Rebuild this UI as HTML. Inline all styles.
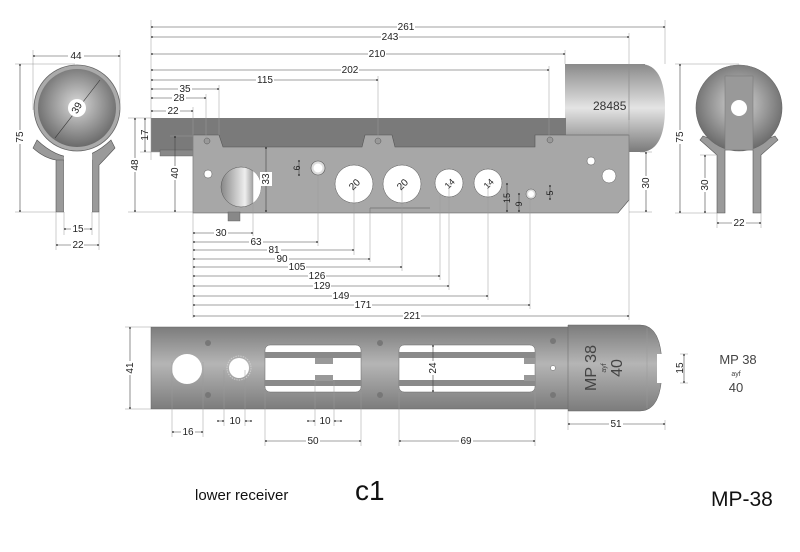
<!DOCTYPE html>
<html><head><meta charset="utf-8"><style>
html,body{margin:0;padding:0;background:#fff;}
svg{display:block;font-family:"Liberation Sans",Arial,sans-serif;}
.d{stroke:#444;stroke-width:.6;fill:none;marker-start:url(#a);marker-end:url(#a)}
.e{stroke:#999;stroke-width:.5;fill:none}
.t{font-size:10px;fill:#222;text-anchor:middle}
.w{fill:#fff}
</style></head><body>
<svg width="800" height="552" viewBox="0 0 800 552" xmlns="http://www.w3.org/2000/svg">
<defs>
<marker id="a" viewBox="0 0 6 6" refX="3" refY="3" markerWidth="4" markerHeight="4" orient="auto"><circle cx="3" cy="3" r="2.2" fill="#222"/></marker>
<radialGradient id="sph" cx="50%" cy="45%" r="55%"><stop offset="0" stop-color="#d8d8d8"/><stop offset="1" stop-color="#6a6a6a"/></radialGradient>
<linearGradient id="cyl" x1="0" y1="0" x2="0" y2="1"><stop offset="0" stop-color="#8a8a8a"/><stop offset=".5" stop-color="#e4e4e4"/><stop offset="1" stop-color="#7a7a7a"/></linearGradient>
<linearGradient id="tube" x1="0" y1="0" x2="0" y2="1"><stop offset="0" stop-color="#7c7c7c"/><stop offset=".45" stop-color="#b5b5b5"/><stop offset="1" stop-color="#7c7c7c"/></linearGradient>
<linearGradient id="hole" x1="0" y1="0" x2="1" y2="0"><stop offset="0" stop-color="#888"/><stop offset=".6" stop-color="#eee"/><stop offset="1" stop-color="#555"/></linearGradient>
</defs>

<!-- LEFT END VIEW -->
<path d="M37,140 Q74,175 111,140 L115,148 Q104,160 99,165 L99,212 L92,212 L92,160 L56,160 L56,212 L64,212 L64,160 L56,160 Q44,158 33,148 Z" fill="#9a9a9a" stroke="#555" stroke-width=".6"/>
<rect x="64" y="150" width="28" height="62" fill="#fff"/>
<circle cx="77" cy="108" r="43" fill="#aaa" stroke="#666" stroke-width=".8"/>
<circle cx="77" cy="108" r="39" fill="url(#sph)"/>
<line x1="55" y1="138" x2="100" y2="80" stroke="#333" stroke-width=".6"/>
<circle cx="77" cy="108" r="9" fill="#fff"/>
<text x="77" y="111" class="t" transform="rotate(-60 77 108)">39</text>
<line class="e" x1="33" y1="50" x2="33" y2="110"/><line class="e" x1="120" y1="50" x2="120" y2="110"/>
<line class="d" x1="34" y1="56" x2="119" y2="56"/><rect x="68" y="50" width="16" height="10" class="w"/><text x="76" y="59" class="t">44</text>
<line class="e" x1="15" y1="64" x2="75" y2="64"/><line class="e" x1="15" y1="212" x2="56" y2="212"/>
<line class="d" x1="20" y1="65" x2="20" y2="211"/><rect x="14" y="130" width="12" height="14" class="w"/><text x="20" y="137" class="t" transform="rotate(-90 20 137)" dy="3">75</text>
<line class="e" x1="64" y1="212" x2="64" y2="235"/><line class="e" x1="92" y1="212" x2="92" y2="235"/>
<line class="e" x1="56" y1="212" x2="56" y2="250"/><line class="e" x1="99" y1="212" x2="99" y2="250"/>
<line class="d" x1="65" y1="229" x2="91" y2="229"/><rect x="71" y="223" width="13" height="10" class="w"/><text x="78" y="232" class="t">15</text>
<line class="d" x1="57" y1="245" x2="98" y2="245"/><rect x="71" y="239" width="13" height="10" class="w"/><text x="78" y="248" class="t">22</text>

<!-- SIDE VIEW -->
<rect x="565" y="64" width="80" height="88" fill="url(#cyl)"/>
<path d="M640,64 Q665,64 665,108 Q665,152 640,152 Z" fill="url(#cyl)"/>
<line x1="629" y1="64" x2="629" y2="120" stroke="#777" stroke-width=".5"/>
<text x="593" y="110" style="font-size:12px;fill:#333">28485</text>
<rect x="151" y="118" width="415" height="34" fill="#7a7a7a"/>
<rect x="160" y="150" width="34" height="6" fill="#888" stroke="#555" stroke-width=".4"/>
<path d="M193,135 L219,135 L223,147 L362,147 L365,135 L392,135 L395,147 L535,147 L535,135 L629,135 L629,200 L618,213 L193,213 Z" fill="#a7a7a7" stroke="#555" stroke-width=".6"/>
<line x1="370" y1="208" x2="430" y2="208" stroke="#555" stroke-width=".6"/><line x1="370" y1="208" x2="370" y2="213" stroke="#555" stroke-width=".6"/>
<rect x="228" y="212" width="12" height="9" fill="#888" stroke="#555" stroke-width=".4"/>
<circle cx="207" cy="141" r="3" fill="#999" stroke="#555" stroke-width=".5"/>
<circle cx="378" cy="141" r="3" fill="#999" stroke="#555" stroke-width=".5"/>
<circle cx="550" cy="140" r="3" fill="#999" stroke="#555" stroke-width=".5"/>
<circle cx="208" cy="174" r="4" fill="#fff" stroke="#555" stroke-width=".5"/>
<circle cx="241" cy="187" r="20" fill="url(#hole)" stroke="#555" stroke-width=".5"/>
<path d="M253,171 A20,20 0 0 1 253,203 Z" fill="#fff"/>
<circle cx="318" cy="168" r="7" fill="#ddd" stroke="#555" stroke-width=".6"/><circle cx="318" cy="168" r="4.5" fill="#fff"/>
<circle cx="354" cy="184" r="19" fill="#fff" stroke="#555" stroke-width=".5"/>
<circle cx="402" cy="184" r="19" fill="#fff" stroke="#555" stroke-width=".5"/>
<circle cx="449" cy="183" r="14" fill="#fff" stroke="#555" stroke-width=".5"/>
<circle cx="488" cy="183" r="14" fill="#fff" stroke="#555" stroke-width=".5"/>
<circle cx="531" cy="194" r="5" fill="#ddd" stroke="#555" stroke-width=".5"/><circle cx="531" cy="194" r="3" fill="#fff"/>
<circle cx="591" cy="161" r="4" fill="#fff" stroke="#555" stroke-width=".5"/>
<circle cx="609" cy="176" r="7" fill="#fff" stroke="#555" stroke-width=".5"/>
<text x="354" y="188" class="t" transform="rotate(-45 354 184)">20</text>
<text x="402" y="188" class="t" transform="rotate(-45 402 184)">20</text>
<text x="449" y="187" class="t" transform="rotate(-45 449 183)" style="font-size:9px">14</text>
<text x="488" y="187" class="t" transform="rotate(-45 488 183)" style="font-size:9px">14</text>
<!-- top dims -->
<line class="e" x1="151" y1="20" x2="151" y2="160"/><line class="e" x1="665" y1="20" x2="665" y2="64"/>
<line class="e" x1="629" y1="33" x2="629" y2="320"/><line class="e" x1="565" y1="50" x2="565" y2="64"/>
<line class="e" x1="549" y1="66" x2="549" y2="140"/><line class="e" x1="378" y1="76" x2="378" y2="140"/>
<line class="e" x1="219" y1="85" x2="219" y2="135"/><line class="e" x1="206" y1="94" x2="206" y2="140"/><line class="e" x1="193" y1="107" x2="193" y2="318"/>
<line class="d" x1="152" y1="27" x2="664" y2="27"/><rect x="397" y="21" width="18" height="11" class="w"/><text x="406" y="30" class="t">261</text>
<line class="d" x1="152" y1="37" x2="628" y2="37"/><rect x="381" y="31" width="18" height="11" class="w"/><text x="390" y="40" class="t">243</text>
<line class="d" x1="152" y1="54" x2="564" y2="54"/><rect x="368" y="48" width="18" height="11" class="w"/><text x="377" y="57" class="t">210</text>
<line class="d" x1="152" y1="70" x2="548" y2="70"/><rect x="341" y="64" width="18" height="11" class="w"/><text x="350" y="73" class="t">202</text>
<line class="d" x1="152" y1="80" x2="377" y2="80"/><rect x="256" y="74" width="18" height="11" class="w"/><text x="265" y="83" class="t">115</text>
<line class="d" x1="152" y1="89" x2="218" y2="89"/><rect x="178" y="83" width="14" height="11" class="w"/><text x="185" y="92" class="t">35</text>
<line class="d" x1="152" y1="98" x2="205" y2="98"/><rect x="172" y="92" width="14" height="11" class="w"/><text x="179" y="101" class="t">28</text>
<line class="d" x1="152" y1="111" x2="192" y2="111"/><rect x="166" y="105" width="14" height="11" class="w"/><text x="173" y="114" class="t">22</text>
<!-- left verticals -->
<line class="e" x1="128" y1="118" x2="151" y2="118"/><line class="e" x1="128" y1="212" x2="193" y2="212"/><line class="e" x1="140" y1="152" x2="160" y2="152"/><line class="e" x1="170" y1="136" x2="193" y2="136"/>
<line class="d" x1="135" y1="119" x2="135" y2="211"/><rect x="129" y="158" width="12" height="14" class="w"/><text x="135" y="165" class="t" transform="rotate(-90 135 165)" dy="3">48</text>
<line class="d" x1="145" y1="119" x2="145" y2="151"/><text x="145" y="135" class="t" transform="rotate(-90 145 135)" dy="3">17</text>
<line class="d" x1="175" y1="137" x2="175" y2="211"/><rect x="169" y="166" width="12" height="14" class="w"/><text x="175" y="173" class="t" transform="rotate(-90 175 173)" dy="3">40</text>
<line class="d" x1="266" y1="148" x2="266" y2="211"/><rect x="260" y="172" width="12" height="14" class="w"/><text x="266" y="179" class="t" transform="rotate(-90 266 179)" dy="3">33</text>
<line class="d" x1="299" y1="161" x2="299" y2="175"/><text x="297" y="168" class="t" transform="rotate(-90 297 168)" dy="3" style="font-size:9px">6</text>
<line class="e" x1="640" y1="152" x2="652" y2="152"/><line class="e" x1="629" y1="212" x2="652" y2="212"/>
<line class="d" x1="646" y1="153" x2="646" y2="211"/><rect x="640" y="176" width="12" height="14" class="w"/><text x="646" y="183" class="t" transform="rotate(-90 646 183)" dy="3">30</text>
<line class="d" x1="507" y1="184" x2="507" y2="211"/><text x="507" y="198" class="t" transform="rotate(-90 507 198)" dy="3" style="font-size:9px">15</text>
<line class="d" x1="519" y1="194" x2="519" y2="211"/><text x="519" y="204" class="t" transform="rotate(-90 519 204)" dy="3" style="font-size:9px">9</text>
<line class="d" x1="550" y1="186" x2="550" y2="199"/><text x="550" y="193" class="t" transform="rotate(-90 550 193)" dy="3" style="font-size:9px">5</text>
<!-- lower dims -->
<line class="e" x1="253" y1="170" x2="253" y2="238"/><line class="e" x1="318" y1="175" x2="318" y2="246"/><line class="e" x1="354" y1="184" x2="354" y2="255"/><line class="e" x1="370" y1="208" x2="370" y2="262"/><line class="e" x1="402" y1="184" x2="402" y2="271"/><line class="e" x1="440" y1="195" x2="440" y2="280"/><line class="e" x1="449" y1="183" x2="449" y2="290"/><line class="e" x1="488" y1="183" x2="488" y2="300"/><line class="e" x1="530" y1="199" x2="530" y2="309"/>
<line class="d" x1="194" y1="233" x2="252" y2="233"/><rect x="214" y="227" width="14" height="11" class="w"/><text x="221" y="236" class="t">30</text>
<line class="d" x1="194" y1="242" x2="317" y2="242"/><rect x="249" y="236" width="14" height="11" class="w"/><text x="256" y="245" class="t">63</text>
<line class="d" x1="194" y1="250" x2="353" y2="250"/><rect x="267" y="244" width="14" height="11" class="w"/><text x="274" y="253" class="t">81</text>
<line class="d" x1="194" y1="259" x2="369" y2="259"/><rect x="275" y="253" width="14" height="11" class="w"/><text x="282" y="262" class="t">90</text>
<line class="d" x1="194" y1="267" x2="401" y2="267"/><rect x="288" y="261" width="18" height="11" class="w"/><text x="297" y="270" class="t">105</text>
<line class="d" x1="194" y1="276" x2="439" y2="276"/><rect x="308" y="270" width="18" height="11" class="w"/><text x="317" y="279" class="t">126</text>
<line class="d" x1="194" y1="286" x2="448" y2="286"/><rect x="313" y="280" width="18" height="11" class="w"/><text x="322" y="289" class="t">129</text>
<line class="d" x1="194" y1="296" x2="487" y2="296"/><rect x="332" y="290" width="18" height="11" class="w"/><text x="341" y="299" class="t">149</text>
<line class="d" x1="194" y1="305" x2="529" y2="305"/><rect x="354" y="299" width="18" height="11" class="w"/><text x="363" y="308" class="t">171</text>
<line class="d" x1="194" y1="316" x2="628" y2="316"/><rect x="403" y="310" width="18" height="11" class="w"/><text x="412" y="319" class="t">221</text>

<!-- RIGHT END VIEW -->
<path d="M700,140 L717,155 L717,213 L725,213 L725,150 L753,150 L753,213 L761,213 L761,155 L778,140 L775,136 L739,150 L703,136 Z" fill="#9a9a9a" stroke="#555" stroke-width=".6"/>
<circle cx="739" cy="108" r="43" fill="url(#sph)" stroke="#666" stroke-width=".6"/>
<rect x="725" y="76" width="28" height="74" fill="#999" stroke="#777" stroke-width=".5"/>
<circle cx="739" cy="108" r="8" fill="#fff"/>
<line class="e" x1="675" y1="64" x2="739" y2="64"/><line class="e" x1="675" y1="213" x2="717" y2="213"/><line class="e" x1="700" y1="155" x2="717" y2="155"/>
<line class="d" x1="680" y1="65" x2="680" y2="212"/><rect x="674" y="130" width="12" height="14" class="w"/><text x="680" y="137" class="t" transform="rotate(-90 680 137)" dy="3">75</text>
<line class="d" x1="705" y1="156" x2="705" y2="212"/><rect x="699" y="178" width="12" height="14" class="w"/><text x="705" y="185" class="t" transform="rotate(-90 705 185)" dy="3">30</text>
<line class="e" x1="717" y1="213" x2="717" y2="228"/><line class="e" x1="761" y1="213" x2="761" y2="228"/>
<line class="d" x1="718" y1="223" x2="760" y2="223"/><rect x="732" y="217" width="14" height="11" class="w"/><text x="739" y="226" class="t">22</text>

<!-- BOTTOM VIEW -->
<rect x="151" y="327" width="418" height="82" fill="url(#tube)" stroke="#666" stroke-width=".5"/>
<path d="M568,325 L640,325 Q662,325 662,368 Q662,411 640,411 L568,411 Z" fill="url(#tube)" stroke="#666" stroke-width=".5"/>
<line x1="647" y1="328" x2="647" y2="408" stroke="#999" stroke-width=".5"/>
<rect x="657" y="354" width="24" height="29" fill="#fff"/>
<rect x="265" y="345" width="96" height="47" rx="5" fill="#fff" stroke="#666" stroke-width=".5"/>
<rect x="265" y="352" width="96" height="6" fill="#8a8a8a"/><rect x="265" y="380" width="96" height="6" fill="#8a8a8a"/>
<rect x="315" y="358" width="18" height="6" fill="#999"/><rect x="315" y="375" width="18" height="6" fill="#999"/>
<rect x="399" y="345" width="136" height="47" rx="5" fill="#fff" stroke="#666" stroke-width=".5"/>
<rect x="399" y="352" width="136" height="6" fill="#8a8a8a"/><rect x="399" y="380" width="136" height="6" fill="#8a8a8a"/>
<rect x="524" y="358" width="11" height="6" fill="#999"/><rect x="524" y="375" width="11" height="6" fill="#999"/>
<circle cx="187" cy="369" r="15" fill="#fff"/>
<circle cx="239" cy="368" r="12" fill="none" stroke="#ccc" stroke-dasharray="1.5 1" stroke-width="1"/><circle cx="239" cy="368" r="10" fill="#fff"/>
<g fill="#777"><circle cx="208" cy="343" r="3"/><circle cx="208" cy="395" r="3"/><circle cx="380" cy="343" r="3"/><circle cx="380" cy="395" r="3"/><circle cx="553" cy="341" r="3"/><circle cx="553" cy="395" r="3"/></g>
<circle cx="553" cy="368" r="2.5" fill="#fff" stroke="#666" stroke-width=".5"/>
<g transform="rotate(-90 600 368)"><text x="600" y="364" class="t" style="font-size:16px;fill:#444">MP 38</text><text x="600" y="374" class="t" style="font-size:7px;fill:#444">ayf</text><text x="600" y="390" class="t" style="font-size:16px;fill:#444">40</text></g>
<line class="e" x1="125" y1="327" x2="151" y2="327"/><line class="e" x1="125" y1="409" x2="151" y2="409"/>
<line class="d" x1="130" y1="328" x2="130" y2="408"/><rect x="124" y="361" width="12" height="14" class="w"/><text x="130" y="368" class="t" transform="rotate(-90 130 368)" dy="3">41</text>
<line class="d" x1="433" y1="346" x2="433" y2="391"/><rect x="427" y="361" width="12" height="14" class="w"/><text x="433" y="368" class="t" transform="rotate(-90 433 368)" dy="3">24</text>
<line class="e" x1="680" y1="354" x2="688" y2="354"/><line class="e" x1="680" y1="383" x2="688" y2="383"/>
<line class="d" x1="684" y1="355" x2="684" y2="382"/><text x="680" y="368" class="t" transform="rotate(-90 680 368)" dy="3">15</text>
<line class="e" x1="172" y1="362" x2="172" y2="437"/><line class="e" x1="203" y1="362" x2="203" y2="437"/>
<line class="d" x1="173" y1="432" x2="202" y2="432"/><rect x="181" y="426" width="14" height="11" class="w"/><text x="188" y="435" class="t">16</text>
<line class="e" x1="224" y1="370" x2="224" y2="426"/><line class="e" x1="245" y1="370" x2="245" y2="426"/>
<line class="d" x1="218" y1="421" x2="223" y2="421"/><line class="d" x1="246" y1="421" x2="251" y2="421"/><text x="235" y="424" class="t">10</text>
<line class="e" x1="315" y1="380" x2="315" y2="426"/><line class="e" x1="334" y1="380" x2="334" y2="426"/>
<line class="d" x1="308" y1="421" x2="314" y2="421"/><line class="d" x1="335" y1="421" x2="341" y2="421"/><text x="325" y="424" class="t">10</text>
<line class="e" x1="265" y1="392" x2="265" y2="446"/><line class="e" x1="361" y1="392" x2="361" y2="446"/>
<line class="d" x1="266" y1="441" x2="360" y2="441"/><rect x="306" y="435" width="14" height="11" class="w"/><text x="313" y="444" class="t">50</text>
<line class="e" x1="399" y1="392" x2="399" y2="446"/><line class="e" x1="535" y1="392" x2="535" y2="446"/>
<line class="d" x1="400" y1="441" x2="534" y2="441"/><rect x="459" y="435" width="14" height="11" class="w"/><text x="466" y="444" class="t">69</text>
<line class="e" x1="568" y1="411" x2="568" y2="430"/><line class="e" x1="665" y1="420" x2="665" y2="430"/>
<line class="d" x1="569" y1="424" x2="664" y2="424"/><rect x="609" y="418" width="14" height="11" class="w"/><text x="616" y="427" class="t">51</text>

<g fill="#444" text-anchor="middle"><text x="738" y="364" style="font-size:13px">MP 38</text><text x="736" y="376" style="font-size:7px">ayf</text><text x="736" y="392" style="font-size:13px">40</text></g>

<text x="195" y="500" style="font-size:15px;fill:#111">lower receiver</text>
<text x="355" y="500" style="font-size:28px;fill:#111">c1</text>
<text x="711" y="506" style="font-size:21px;fill:#111">MP-38</text>
</svg>
</body></html>
